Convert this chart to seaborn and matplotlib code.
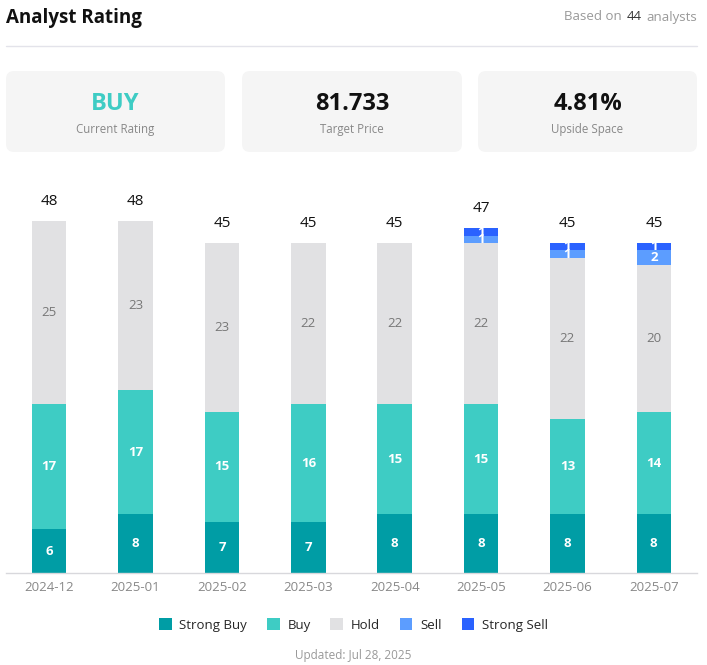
import matplotlib
matplotlib.use("Agg")
import matplotlib.pyplot as plt
from matplotlib.patches import FancyBboxPatch, Patch
import seaborn as sns
import numpy as np
import pandas as pd

# ---- data ----
months = ["2024-12", "2025-01", "2025-02", "2025-03", "2025-04", "2025-05", "2025-06", "2025-07"]
strong_buy = [6, 8, 7, 7, 8, 8, 8, 8]
buy = [17, 17, 15, 16, 15, 15, 13, 14]
hold = [25, 23, 23, 22, 22, 22, 22, 20]
sell = [0, 0, 0, 0, 0, 1, 1, 2]
strong_sell = [0, 0, 0, 0, 0, 1, 1, 1]

series_names = ["Strong Buy", "Buy", "Hold", "Sell", "Strong Sell"]
series_colors = ["#009DA5", "#3ECCC4", "#E1E1E3", "#5C9DFF", "#2A62FF"]

card_values = ["BUY", "81.733", "4.81%"]
card_labels = ["Current Rating", "Target Price", "Upside Space"]
card_value_colors = ["#3ECCC4", "#111111", "#111111"]
analyst_count = "44"
updated_text = "Updated: Jul 28, 2025"

sns.set_theme(style="white")
plt.rcParams["font.family"] = ["Open Sans", "DejaVu Sans"]

W, H = 707, 665
fig = plt.figure(figsize=(W / 100, H / 100), dpi=100)

# background overlay in pixel coords
bg = fig.add_axes([0, 0, 1, 1], zorder=0)
bg.set_xlim(0, W)
bg.set_ylim(H, 0)
bg.axis("off")

bg.text(6, 18, "Analyst Rating", fontsize=13.5, fontweight="bold", color="#111111",
        va="center", ha="left")
t3 = bg.text(697, 17, "analysts", fontsize=9.5, color="#999999", va="center", ha="right")
fig.canvas.draw()
r = fig.canvas.get_renderer()
bb = t3.get_window_extent(r)
x_end = bb.x0 - 5
t2 = bg.text(x_end, 17, analyst_count, fontsize=9.5, color="#333333", va="center", ha="right")
bb2 = t2.get_window_extent(r)
bg.text(bb2.x0 - 5, 17, "Based on", fontsize=9.5, color="#999999", va="center", ha="right")
bg.plot([6, 697], [46, 46], color="#E3E3EA", lw=1)

cards_x = [(6, 225), (242, 462), (478, 697)]
for (x0, x1), val, lab, vc in zip(cards_x, card_values, card_labels, card_value_colors):
    p = FancyBboxPatch((x0 + 6, 71 + 6), (x1 - x0) - 12, 81 - 12,
                       boxstyle="round,pad=6,rounding_size=8",
                       facecolor="#F5F5F5", edgecolor="none")
    bg.add_patch(p)
    cx = (x0 + x1) / 2
    bg.text(cx, 104, val, fontsize=17, fontweight="bold", color=vc, ha="center", va="center")
    bg.text(cx, 129, lab, fontsize=8.3, color="#888888", ha="center", va="center")

bg.text(W / 2, 655, updated_text, fontsize=8.5, color="#999999", ha="center", va="center")

# ---- chart ----
ax_bottom = 573
ax_top = 190
ax = fig.add_axes([6 / W, (H - ax_bottom) / H, 691 / W, (ax_bottom - ax_top) / H], zorder=1)
ax.patch.set_alpha(0)

layers = [strong_buy, buy, hold, sell, strong_sell]
cum = np.cumsum(np.array(layers), axis=0)
# draw from top cumulative down so lower layers overlay
for i in range(len(layers) - 1, -1, -1):
    df = pd.DataFrame({"month": months, "value": cum[i]})
    sns.barplot(data=df, x="month", y="value", color=series_colors[i], width=0.4,
                saturation=1, ax=ax, order=months, linewidth=0)

px_per_unit = 7.333
ax.set_xlim(-0.5, len(months) - 0.5)
ax.set_ylim(0, (ax_bottom - ax_top) / px_per_unit)

for j in range(len(months)):
    base = 0
    for i, vals in enumerate(layers):
        v = vals[j]
        if v > 0:
            color = "#777777" if series_names[i] == "Hold" else "white"
            weight = "normal" if series_names[i] == "Hold" else "bold"
            ax.text(j, base + v / 2, str(v), ha="center", va="center", fontsize=9.5,
                    color=color, fontweight=weight)
        base += v
    ax.annotate(str(base), (j, base), xytext=(0, 9), textcoords="offset points",
                ha="center", va="bottom", fontsize=11, color="#111111")

ax.set_xlabel("")
ax.set_ylabel("")
ax.set_yticks([])
for s in ["top", "right", "left"]:
    ax.spines[s].set_visible(False)
ax.spines["bottom"].set_color("#D8D8DC")
ax.spines["bottom"].set_linewidth(1)
ax.tick_params(axis="x", length=0, pad=6, labelsize=9.5, labelcolor="#888888")

handles = [Patch(facecolor=c, edgecolor="none") for c in series_colors]
fig.legend(handles, series_names, loc="center", bbox_to_anchor=(0.5, 1 - 625 / H),
           ncol=5, frameon=False, fontsize=9.5, handlelength=0.95, handleheight=0.95,
           handletextpad=0.6, columnspacing=1.5)

fig.savefig("out.png", dpi=100)
